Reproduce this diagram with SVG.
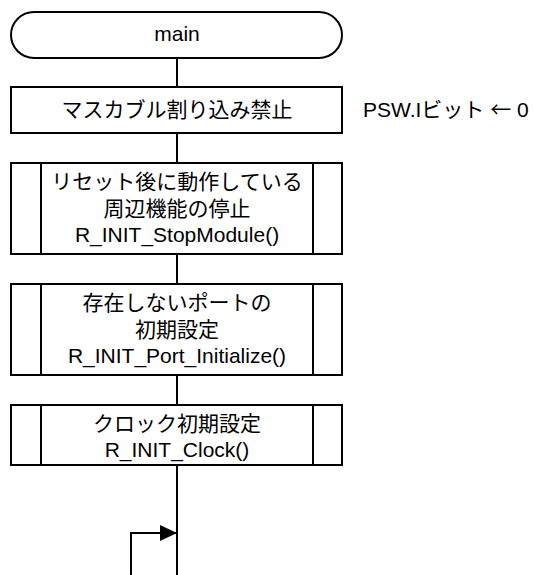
<svg xmlns="http://www.w3.org/2000/svg" width="534" height="575" viewBox="0 0 534 575">
<style>
.s{fill:#fff;stroke:#000;stroke-width:2}
.l{fill:none;stroke:#000;stroke-width:2}
.t{font-family:"Liberation Sans","Noto Sans CJK JP",sans-serif;font-size:21px;fill:#000;text-anchor:middle}
.a{text-anchor:start}
.j{font-family:"Noto Sans CJK JP",sans-serif}
</style>
<defs>
<marker id="ah" markerUnits="userSpaceOnUse" markerWidth="17" markerHeight="16" refX="17" refY="8" orient="auto">
<path d="M0,0 L17,8 L0,16 z" fill="#000"/>
</marker>
</defs>
<g id="connectors">
<line class="l" x1="177" y1="58" x2="177" y2="87"/>
<line class="l" x1="177" y1="133" x2="177" y2="163"/>
<line class="l" x1="177" y1="254" x2="177" y2="284"/>
<line class="l" x1="177" y1="375" x2="177" y2="405"/>
<line class="l" x1="177" y1="465" x2="177" y2="575"/>
<path class="l" d="M131 576 V533 H177" marker-end="url(#ah)"/>
</g>
<g id="start">
<rect class="s" x="11" y="12" width="331" height="46" rx="23" ry="23"/>
<text class="t" x="177" y="41">main</text>
</g>
<g id="mask">
<rect class="s" x="11" y="87" width="331" height="46"/>
<text class="t" x="177" y="117">マスカブル割り込み禁止</text>
</g>
<g id="note">
<text class="t a" x="363" y="117">PSW.Iビット <tspan class="j">←</tspan> 0</text>
</g>
<g id="stop">
<rect class="s" x="11" y="163" width="331" height="91"/>
<line class="l" x1="41" y1="163" x2="41" y2="254"/>
<line class="l" x1="313" y1="163" x2="313" y2="254"/>
<text class="t" x="177" y="189">リセット後に動作している</text>
<text class="t" x="177" y="216">周辺機能の停止</text>
<text class="t" x="177" y="242">R_INIT_StopModule()</text>
</g>
<g id="port">
<rect class="s" x="11" y="284" width="331" height="91"/>
<line class="l" x1="41" y1="284" x2="41" y2="375"/>
<line class="l" x1="313" y1="284" x2="313" y2="375"/>
<text class="t" x="177" y="310">存在しないポートの</text>
<text class="t" x="177" y="337">初期設定</text>
<text class="t" x="177" y="363">R_INIT_Port_Initialize()</text>
</g>
<g id="clock">
<rect class="s" x="11" y="405" width="331" height="60"/>
<line class="l" x1="41" y1="405" x2="41" y2="465"/>
<line class="l" x1="313" y1="405" x2="313" y2="465"/>
<text class="t" x="177" y="431">クロック初期設定</text>
<text class="t" x="177" y="457">R_INIT_Clock()</text>
</g>
</svg>
